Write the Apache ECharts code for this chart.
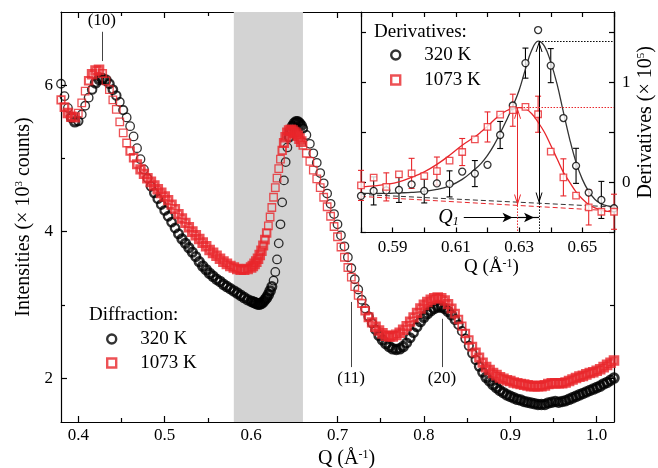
<!DOCTYPE html>
<html>
<head>
<meta charset="utf-8">
<title>Diffraction and derivatives</title>
<script src="https://cdn.jsdelivr.net/npm/echarts@6.0.0/dist/echarts.min.js"></script>
<style>
  html, body { margin: 0; padding: 0; background: #fff; }
  #main { width: 658px; height: 468px; }
</style>
</head>
<body>
<div id="main"></div>
<script>
// main panel: Q (1/A) and intensities (x 10^3 counts)
var qGrid = [
  0.380, 0.384, 0.388, 0.392, 0.396, 0.400, 0.404, 0.408, 0.412, 0.416,
  0.420, 0.424, 0.428, 0.432, 0.436, 0.440, 0.444, 0.448, 0.452, 0.456,
  0.460, 0.464, 0.468, 0.472, 0.476, 0.480, 0.484, 0.488, 0.492, 0.496,
  0.500, 0.504, 0.508, 0.512, 0.516, 0.520, 0.524, 0.528, 0.532, 0.536,
  0.540, 0.544, 0.548, 0.552, 0.556, 0.560, 0.564, 0.568, 0.572, 0.576,
  0.580, 0.584, 0.588, 0.592, 0.596, 0.600, 0.602, 0.604, 0.606, 0.608,
  0.610, 0.612, 0.614, 0.616, 0.618, 0.620, 0.622, 0.624, 0.626, 0.628,
  0.630, 0.632, 0.634, 0.636, 0.638, 0.640, 0.642, 0.644, 0.646, 0.648,
  0.650, 0.652, 0.654, 0.656, 0.658, 0.660, 0.664, 0.668, 0.672, 0.676,
  0.680, 0.684, 0.688, 0.692, 0.696, 0.700, 0.704, 0.708, 0.712, 0.716,
  0.720, 0.724, 0.728, 0.732, 0.736, 0.740, 0.744, 0.748, 0.752, 0.756,
  0.760, 0.764, 0.768, 0.772, 0.776, 0.780, 0.784, 0.788, 0.792, 0.796,
  0.800, 0.804, 0.808, 0.812, 0.816, 0.820, 0.824, 0.828, 0.832, 0.836,
  0.840, 0.844, 0.848, 0.852, 0.856, 0.860, 0.864, 0.868, 0.872, 0.876,
  0.880, 0.884, 0.888, 0.892, 0.896, 0.900, 0.904, 0.908, 0.912, 0.916,
  0.920, 0.924, 0.928, 0.932, 0.936, 0.940, 0.944, 0.948, 0.952, 0.956,
  0.960, 0.964, 0.968, 0.972, 0.976, 0.980, 0.984, 0.988, 0.992, 0.996,
  1.000, 1.004, 1.008, 1.012, 1.016, 1.020
];
var int320 = [
  6.02, 5.85, 5.69, 5.56, 5.50, 5.51, 5.60, 5.72, 5.83, 5.94,
  6.03, 6.08, 6.09, 6.07, 6.02, 5.94, 5.86, 5.77, 5.66, 5.56,
  5.44, 5.30, 5.14, 4.99, 4.85, 4.73, 4.62, 4.53, 4.45, 4.37,
  4.29, 4.21, 4.13, 4.05, 3.97, 3.90, 3.84, 3.78, 3.72, 3.66,
  3.59, 3.53, 3.48, 3.43, 3.39, 3.35, 3.32, 3.28, 3.25, 3.22,
  3.19, 3.16, 3.13, 3.10, 3.07, 3.05, 3.04, 3.03, 3.02, 3.01,
  3.01, 3.02, 3.04, 3.07, 3.10, 3.14, 3.19, 3.25, 3.33, 3.45,
  3.62, 3.84, 4.10, 4.40, 4.70, 4.95, 5.15, 5.29, 5.38, 5.44,
  5.48, 5.50, 5.50, 5.48, 5.45, 5.41, 5.32, 5.20, 5.07, 4.94,
  4.80, 4.66, 4.52, 4.38, 4.24, 4.10, 3.95, 3.80, 3.65, 3.50,
  3.35, 3.21, 3.07, 2.95, 2.84, 2.75, 2.66, 2.58, 2.52, 2.47,
  2.43, 2.40, 2.39, 2.40, 2.43, 2.48, 2.55, 2.62, 2.70, 2.77,
  2.83, 2.88, 2.92, 2.95, 2.97, 2.97, 2.95, 2.91, 2.86, 2.80,
  2.73, 2.64, 2.54, 2.44, 2.34, 2.25, 2.16, 2.08, 2.01, 1.96,
  1.91, 1.87, 1.83, 1.80, 1.77, 1.75, 1.73, 1.71, 1.70, 1.68,
  1.67, 1.66, 1.65, 1.64, 1.64, 1.64, 1.66, 1.67, 1.68, 1.67,
  1.68, 1.69, 1.71, 1.73, 1.75, 1.77, 1.79, 1.81, 1.83, 1.85,
  1.87, 1.89, 1.92, 1.94, 1.97, 2.00
];
var int1073 = [
  5.80, 5.70, 5.62, 5.57, 5.56, 5.62, 5.76, 5.92, 6.06, 6.15,
  6.20, 6.21, 6.16, 6.06, 5.94, 5.80, 5.67, 5.50, 5.35, 5.21,
  5.10, 5.01, 4.92, 4.85, 4.79, 4.73, 4.68, 4.63, 4.58, 4.53,
  4.48, 4.43, 4.37, 4.31, 4.24, 4.18, 4.12, 4.06, 4.00, 3.95,
  3.90, 3.85, 3.80, 3.75, 3.71, 3.67, 3.63, 3.59, 3.56, 3.53,
  3.51, 3.49, 3.48, 3.48, 3.49, 3.51, 3.53, 3.56, 3.59, 3.63,
  3.68, 3.74, 3.81, 3.89, 3.98, 4.08, 4.20, 4.33, 4.47, 4.60,
  4.73, 4.86, 4.99, 5.11, 5.21, 5.29, 5.35, 5.38, 5.39, 5.38,
  5.36, 5.34, 5.31, 5.27, 5.23, 5.18, 5.07, 4.96, 4.84, 4.72,
  4.60, 4.47, 4.34, 4.21, 4.07, 3.93, 3.79, 3.65, 3.51, 3.38,
  3.25, 3.13, 3.02, 2.92, 2.83, 2.76, 2.70, 2.65, 2.61, 2.58,
  2.57, 2.57, 2.59, 2.62, 2.66, 2.71, 2.77, 2.83, 2.89, 2.95,
  3.00, 3.04, 3.07, 3.09, 3.10, 3.09, 3.06, 3.01, 2.95, 2.88,
  2.80, 2.71, 2.61, 2.52, 2.43, 2.35, 2.28, 2.21, 2.15, 2.11,
  2.07, 2.04, 2.01, 1.99, 1.97, 1.96, 1.94, 1.93, 1.92, 1.91,
  1.90, 1.89, 1.89, 1.89, 1.89, 1.90, 1.92, 1.93, 1.93, 1.93,
  1.93, 1.94, 1.96, 1.98, 2.00, 2.02, 2.03, 2.05, 2.07, 2.08,
  2.10, 2.12, 2.15, 2.18, 2.21, 2.24
];

// peak labels and the shaded Q window
var hklQ = [0.4273, 0.7158, 0.8208];
var hklText = ['(10)', '(11)', '(20)'];
var hklFrom = [6.33, 3.04, 2.81];
var hklTo = [6.73, 2.15, 2.15];
var bandQ = [0.58, 0.66];

// inset: derivatives (x 10^5)
var dQ = [0.580, 0.584, 0.588, 0.592, 0.596, 0.600, 0.604, 0.608, 0.612, 0.616, 0.620,
          0.624, 0.628, 0.632, 0.636, 0.640, 0.644, 0.648, 0.652, 0.656, 0.660];
var d320 = [-0.135, -0.085, -0.080, -0.075, -0.020, -0.085, -0.010, -0.015, 0.108, 0.088, 0.175,
            0.473, 0.767, 1.190, 1.520, 1.165, 0.642, 0.165, -0.102, -0.175, -0.258];
var err320 = [null, 0.14, null, 0.125, null, 0.12, null, 0.13, null, 0.13, null,
              0.135, null, 0.15, null, 0.17, null, 0.175, null, 0.185, null];
var d1073 = [-0.030, 0.047, -0.045, 0.080, 0.090, 0.063, 0.113, 0.217, 0.303, 0.430, 0.553,
             0.677, 0.720, 0.753, 0.680, 0.307, 0.050, -0.133, -0.250, -0.293, -0.293];
var err1073 = [0.15, null, 0.14, null, 0.15, null, 0.14, null, 0.135, null, 0.15,
               null, 0.16, null, 0.18, null, 0.185, null, 0.175, null, 0.175];

// fitted curves
var fitQ = [0.580, 0.584, 0.588, 0.592, 0.596, 0.600, 0.604, 0.608, 0.612, 0.616, 0.618,
            0.620, 0.622, 0.624, 0.626, 0.628, 0.630, 0.632, 0.634, 0.636, 0.638, 0.640,
            0.642, 0.644, 0.646, 0.648, 0.650, 0.652, 0.654, 0.656, 0.658, 0.660];
var fit320 = [-0.11, -0.11, -0.11, -0.105, -0.10, -0.09, -0.07, -0.035, 0.03, 0.13, 0.19,
              0.27, 0.37, 0.49, 0.62, 0.76, 0.92, 1.13, 1.32, 1.41, 1.36, 1.20,
              0.98, 0.70, 0.43, 0.20, 0.03, -0.09, -0.17, -0.215, -0.235, -0.245];
var fit1073 = [-0.047, -0.035, -0.02, 0.005, 0.05, 0.105, 0.18, 0.27, 0.37, 0.455, 0.505,
               0.56, 0.62, 0.675, 0.715, 0.738, 0.745, 0.735, 0.685, 0.60, 0.50, 0.37,
               0.235, 0.10, 0.00, -0.095, -0.165, -0.22, -0.255, -0.278, -0.29, -0.295];
var base320 = [[0.58, -0.12], [0.66, -0.245]];
var base1073 = [[0.58, -0.14], [0.66, -0.285]];
var peak320 = [0.6363, 1.41];
var peak1073 = [0.6295, 0.745];
var foot320 = -0.21;
var foot1073 = -0.23;
var q1Y = -0.35;
var q1Start = 0.6125;

// ticks
var mainXTicks = [0.4, 0.5, 0.6, 0.7, 0.8, 0.9, 1.0];
var mainXMinor = [0.45, 0.55, 0.65, 0.75, 0.85, 0.95];
var mainYTicks = [2, 4, 6];
var mainYMinor = [3, 5];
var insetXTicks = [0.58, 0.59, 0.60, 0.61, 0.62, 0.63, 0.64, 0.65, 0.66];
var insetXLabels = [0.59, 0.61, 0.63, 0.65];
var insetYTicks = [-0.5, 0, 0.5, 1, 1.5];
var insetYLabels = [0, 1];

var serif = 'Liberation Serif';
var red = '#e8262b';
var black = '#000';
var chevron = 'path://M5,0L10,12L8.6,12L5,3.6L1.4,12L0,12Z';

function pairs(xs, ys) {
  return xs.map(function (x, i) { return [x, ys[i]]; });
}
// the measured points are packed so tightly that where the curve is flat
// they merge into a solid band; thicken the rings there, keep them thin on steep edges
function ringPoints(xs, ys) {
  var px = 866.7, py = 73.2; // rough pixels per unit, only used for the ring weight
  return xs.map(function (x, i) {
    var j = i < xs.length - 1 ? i + 1 : i - 1;
    var d = Math.sqrt(Math.pow((xs[j] - x) * px, 2) + Math.pow((ys[j] - ys[i]) * py, 2));
    var w = d <= 5 ? 3.1 : (d >= 9 ? 1.3 : 3.1 - (d - 5) / 4 * 1.8);
    return { value: [x, ys[i]], itemStyle: { borderWidth: w } };
  });
}
function withErrors(xs, ys, es) {
  var out = [];
  for (var i = 0; i < xs.length; i++) {
    if (es[i] != null) out.push([xs[i], ys[i] - es[i], ys[i] + es[i]]);
  }
  return out;
}
function errorBar(params, api) {
  var x = api.value(0);
  var lo = api.coord([x, api.value(1)]);
  var hi = api.coord([x, api.value(2)]);
  var st = { stroke: api.visual('color'), lineWidth: 1.1, fill: null };
  return {
    type: 'group',
    children: [
      { type: 'line', shape: { x1: lo[0], y1: lo[1], x2: hi[0], y2: hi[1] }, style: st },
      { type: 'line', shape: { x1: lo[0] - 3, y1: lo[1], x2: lo[0] + 3, y2: lo[1] }, style: st },
      { type: 'line', shape: { x1: hi[0] - 3, y1: hi[1], x2: hi[0] + 3, y2: hi[1] }, style: st }
    ]
  };
}

var axisLine = { show: true, onZero: false, lineStyle: { color: black, width: 1.2 } };
var noLine = { show: false, onZero: false };
var tickStyle = { color: black, width: 1.2 };
var labelFont = { fontFamily: serif, fontSize: 17, color: black };
var supRich = {
  sup: { fontFamily: serif, fontSize: 12, verticalAlign: 'top', color: black }
};

function tickAxis(grid, pos, min, max, ticks, len, showLine) {
  return {
    type: 'value', gridIndex: grid, position: pos, min: min, max: max,
    axisLine: showLine ? axisLine : noLine,
    axisTick: { show: true, inside: true, length: len, customValues: ticks, lineStyle: tickStyle },
    axisLabel: { show: false },
    splitLine: { show: false }
  };
}

var xMain = tickAxis(0, 'bottom', 0.38, 1.02, mainXTicks, 6, true);
xMain.axisLabel = Object.assign({ show: true, customValues: mainXTicks, margin: 5,
  formatter: function (v) { return v.toFixed(1); } }, labelFont);
xMain.name = 'Q (Å{sup|-1})';
xMain.nameLocation = 'middle';
xMain.nameGap = 24;
xMain.nameTextStyle = { fontFamily: serif, fontSize: 20, color: black, lineHeight: 20,
  padding: [0, 0, 0, 18], rich: supRich };

var yMain = tickAxis(0, 'left', 1.4, 7, mainYTicks, 6, true);
yMain.axisLabel = Object.assign({ show: true, customValues: mainYTicks, margin: 8 }, labelFont);
yMain.name = 'Intensities (× 10{sup|3} counts)';
yMain.nameLocation = 'middle';
yMain.nameGap = 24;
yMain.nameTextStyle = { fontFamily: serif, fontSize: 20, color: black, lineHeight: 20,
  rich: { sup: { fontFamily: serif, fontSize: 11, verticalAlign: 'top', color: black } } };

var xInset = tickAxis(1, 'bottom', 0.58, 0.66, insetXTicks, 5, true);
xInset.axisLabel = Object.assign({ show: true, customValues: insetXLabels, margin: 7,
  formatter: function (v) { return v.toFixed(2); } }, labelFont);
xInset.name = 'Q (Å{sup|-1})';
xInset.nameLocation = 'middle';
xInset.nameGap = 21;
xInset.nameTextStyle = { fontFamily: serif, fontSize: 19, color: black, lineHeight: 20,
  padding: [0, 0, 0, 8], rich: supRich };

var yInset = tickAxis(1, 'right', -0.5, 1.7, insetYTicks, 5, true);
yInset.axisLabel = Object.assign({ show: true, customValues: insetYLabels, margin: 8 }, labelFont);
yInset.name = 'Derivatives (× 10{sup|5})';
yInset.nameLocation = 'middle';
yInset.nameGap = 22;
yInset.nameTextStyle = { fontFamily: serif, fontSize: 20, color: black, lineHeight: 20,
  rich: { sup: { fontFamily: serif, fontSize: 11, verticalAlign: 'top', color: black } } };

var legendText = { fontFamily: serif, fontSize: 19, color: black, lineHeight: 20, padding: [0, 0, 0, 19] };

var option = {
  animation: false,
  backgroundColor: '#fff',
  textStyle: { fontFamily: serif },
  title: [
    { text: 'Diffraction:', left: 89, top: 305, padding: 0,
      textStyle: { fontFamily: serif, fontSize: 19, fontWeight: 'normal', color: black, lineHeight: 20 } },
    { text: 'Derivatives:', left: 374, top: 22, padding: 0,
      textStyle: { fontFamily: serif, fontSize: 19, fontWeight: 'normal', color: black, lineHeight: 20 } }
  ],
  legend: [
    { data: ['320 K', '1073 K'], orient: 'vertical', left: 106, top: 329, padding: 0,
      itemWidth: 9, itemHeight: 9, itemGap: 4, selectedMode: false,
      itemStyle: { borderWidth: 2.4 }, textStyle: legendText },
    { data: ['320 K', '1073 K'], orient: 'vertical', left: 390, top: 45, padding: 0,
      itemWidth: 9, itemHeight: 9, itemGap: 5, selectedMode: false,
      itemStyle: { borderWidth: 2.4 }, textStyle: legendText }
  ],
  grid: [
    { left: 61, right: 44, top: 12, bottom: 46, outerBoundsMode: 'none' },
    { left: 361, right: 44, top: 12, bottom: 235.5, outerBoundsMode: 'none' }
  ],
  xAxis: [
    xMain,
    tickAxis(0, 'bottom', 0.38, 1.02, mainXMinor, 4, false),
    tickAxis(0, 'top', 0.38, 1.02, [0.4, 0.5, 0.6, 0.7], 6, true),
    tickAxis(0, 'top', 0.38, 1.02, [0.45, 0.55, 0.65], 4, false),
    xInset,
    tickAxis(1, 'top', 0.58, 0.66, insetXTicks, 5, true)
  ],
  yAxis: [
    yMain,
    tickAxis(0, 'left', 1.4, 7, mainYMinor, 4, false),
    tickAxis(0, 'right', 1.4, 7, [2], 6, true),
    tickAxis(0, 'right', 1.4, 7, [3], 4, false),
    yInset,
    tickAxis(1, 'left', -0.5, 1.7, insetYTicks, 5, true)
  ],
  series: [
    {
      name: '320 K', type: 'scatter', xAxisIndex: 0, yAxisIndex: 0, z: 2,
      symbol: 'circle', symbolSize: 8.5,
      itemStyle: { color: 'rgba(0,0,0,0)', borderColor: black, borderWidth: 1.8 },
      data: ringPoints(qGrid, int320),
      markArea: {
        silent: true,
        itemStyle: { color: '#d3d3d3' },
        data: [[{ xAxis: bandQ[0] }, { xAxis: bandQ[1] }]]
      },
      markLine: {
        silent: true, symbol: ['none', 'none'],
        lineStyle: { color: '#444', width: 1, type: 'solid' },
        label: { show: true, position: 'end', distance: 3, formatter: '{b}',
          fontFamily: serif, fontSize: 17, color: black },
        emphasis: { disabled: true },
        data: hklQ.map(function (q, i) {
          return [{ name: hklText[i], coord: [q, hklFrom[i]] }, { coord: [q, hklTo[i]] }];
        })
      }
    },
    {
      name: '1073 K', type: 'scatter', xAxisIndex: 0, yAxisIndex: 0, z: 3,
      symbol: 'rect', symbolSize: 7.5,
      itemStyle: { color: 'rgba(0,0,0,0)', borderColor: red, borderWidth: 1.8 },
      data: ringPoints(qGrid, int1073)
    },
    // inset
    {
      type: 'custom', xAxisIndex: 4, yAxisIndex: 4, z: 2,
      itemStyle: { color: black }, renderItem: errorBar,
      encode: { x: 0, y: [1, 2] }, data: withErrors(dQ, d320, err320)
    },
    {
      type: 'custom', xAxisIndex: 4, yAxisIndex: 4, z: 2,
      itemStyle: { color: red }, renderItem: errorBar,
      encode: { x: 0, y: [1, 2] }, data: withErrors(dQ, d1073, err1073)
    },
    {
      type: 'line', xAxisIndex: 4, yAxisIndex: 4, z: 2, showSymbol: false, silent: true,
      lineStyle: { color: '#333', width: 1, type: [5, 3] }, data: base320
    },
    {
      type: 'line', xAxisIndex: 4, yAxisIndex: 4, z: 2, showSymbol: false, silent: true,
      lineStyle: { color: red, width: 1, type: [5, 3] }, data: base1073
    },
    {
      type: 'line', xAxisIndex: 4, yAxisIndex: 4, z: 2, showSymbol: false, silent: true,
      smooth: 0.4, lineStyle: { color: '#333', width: 1.3 }, data: pairs(fitQ, fit320),
      markLine: {
        silent: true, symbol: ['none', 'none'], label: { show: false },
        emphasis: { disabled: true },
        data: [
          [{ coord: peak320, symbol: chevron, symbolSize: [7, 11], symbolOffset: [0, 5.5],
             lineStyle: { color: black, width: 1, type: 'solid' } },
           { coord: [peak320[0], foot320], symbol: chevron, symbolSize: [7, 11], symbolOffset: [0, 5.5] }],
          [{ coord: [peak320[0], foot320], lineStyle: { color: black, width: 1, type: [1.5, 1.5] } },
           { coord: [peak320[0], -0.5] }],
          [{ coord: peak320, lineStyle: { color: black, width: 1, type: [1.5, 1.5] } },
           { coord: [0.66, peak320[1]] }],
          [{ coord: [q1Start, q1Y], name: 'Q1', lineStyle: { color: black, width: 1.2, type: 'solid' },
             label: { show: true, position: 'start', distance: 5, formatter: '{q|Q}{s|1}',
               rich: {
                 q: { fontFamily: serif, fontSize: 20, fontStyle: 'italic', color: black, lineHeight: 20 },
                 s: { fontFamily: serif, fontSize: 12, fontStyle: 'italic', color: black, verticalAlign: 'bottom' }
               } } },
           { coord: [peak1073[0], q1Y], symbol: 'arrow', symbolSize: [7, 10], symbolOffset: [0, 5] }],
          [{ coord: [peak1073[0], q1Y], lineStyle: { color: black, width: 1.2, type: 'solid' } },
           { coord: [peak320[0], q1Y], symbol: 'arrow', symbolSize: [7, 10], symbolOffset: [0, 5] }]
        ]
      }
    },
    {
      type: 'line', xAxisIndex: 4, yAxisIndex: 4, z: 2, showSymbol: false, silent: true,
      smooth: 0.4, lineStyle: { color: red, width: 1.3 }, data: pairs(fitQ, fit1073),
      markLine: {
        silent: true, symbol: ['none', 'none'], label: { show: false },
        emphasis: { disabled: true },
        data: [
          [{ coord: peak1073, symbol: chevron, symbolSize: [7, 11], symbolOffset: [0, 5.5],
             lineStyle: { color: red, width: 1, type: 'solid' } },
           { coord: [peak1073[0], foot1073], symbol: chevron, symbolSize: [7, 11], symbolOffset: [0, 5.5] }],
          [{ coord: [peak1073[0], foot1073], lineStyle: { color: red, width: 1, type: [1.5, 1.5] } },
           { coord: [peak1073[0], -0.5] }],
          [{ coord: peak1073, lineStyle: { color: red, width: 1, type: [1.5, 1.5] } },
           { coord: [0.66, peak1073[1]] }]
        ]
      }
    },
    {
      name: '320 K', type: 'scatter', xAxisIndex: 4, yAxisIndex: 4, z: 4,
      symbol: 'circle', symbolSize: 7,
      itemStyle: { color: '#fff', borderColor: black, borderWidth: 1.3 },
      data: pairs(dQ, d320)
    },
    {
      name: '1073 K', type: 'scatter', xAxisIndex: 4, yAxisIndex: 4, z: 4,
      symbol: 'rect', symbolSize: 6.5,
      itemStyle: { color: '#fff', borderColor: red, borderWidth: 1.3 },
      data: pairs(dQ, d1073)
    }
  ]
};

var chart = echarts.init(document.getElementById('main'));
chart.setOption(option);
</script>
</body>
</html>
